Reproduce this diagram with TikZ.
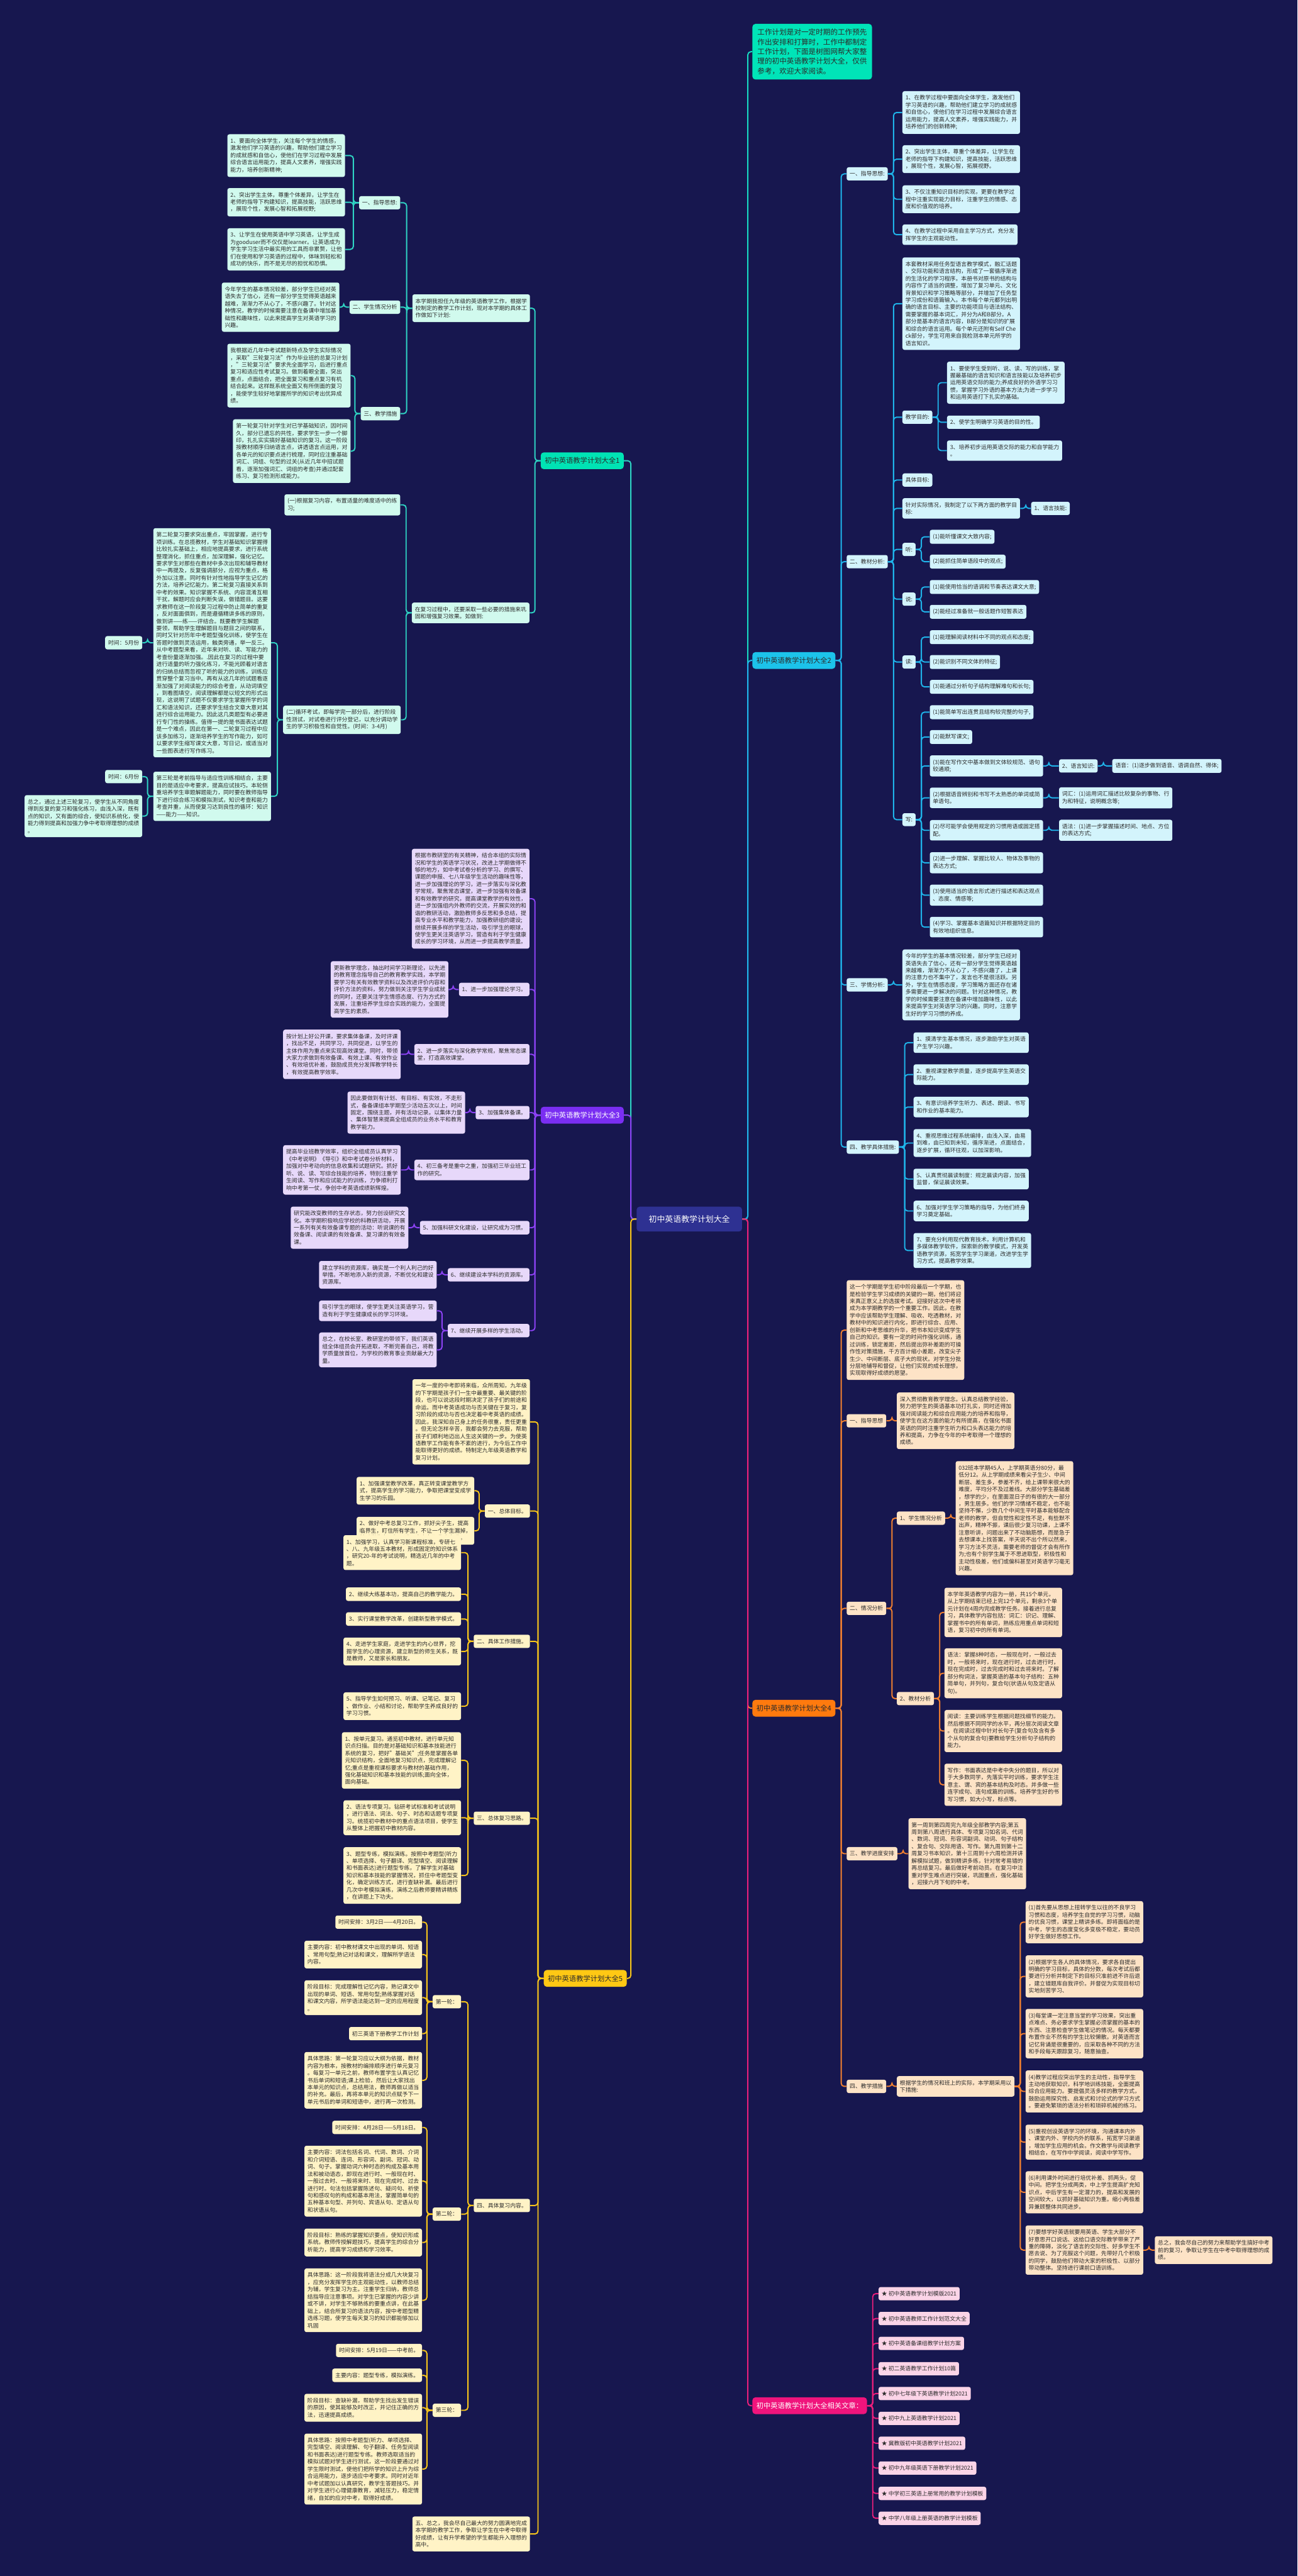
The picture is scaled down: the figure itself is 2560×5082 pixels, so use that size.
\documentclass[tikz,border=0pt]{standalone}
\usepackage{fontspec}
\setmainfont{Noto Sans CJK SC}
\usepackage{tikz}

\definecolor{bg}{HTML}{17174F}
\definecolor{ink}{HTML}{2B2B2B}
\definecolor{rootfill}{HTML}{2E3192}
\definecolor{introfill}{HTML}{00E4B8}
\definecolor{linei}{HTML}{17D9C0}
\definecolor{node1}{HTML}{00E3B4}\definecolor{fill1}{HTML}{D1FAEE}\definecolor{line1}{HTML}{2FD5C4}
\definecolor{node2}{HTML}{1CC3EA}\definecolor{fill2}{HTML}{D3F4FC}\definecolor{line2}{HTML}{1FB4EA}
\definecolor{node3}{HTML}{7A2EF2}\definecolor{fill3}{HTML}{E7D8FA}\definecolor{line3}{HTML}{8C42F4}
\definecolor{node4}{HTML}{FF7A0E}\definecolor{fill4}{HTML}{FDE3C6}\definecolor{line4}{HTML}{F28030}
\definecolor{node5}{HTML}{FFC814}\definecolor{fill5}{HTML}{FFF3C6}\definecolor{line5}{HTML}{F7C51A}
\definecolor{node6}{HTML}{F0147C}\definecolor{fill6}{HTML}{FBD4E7}\definecolor{line6}{HTML}{E91F7B}

\tikzset{
  box/.style={rounded corners=2pt, inner xsep=3pt, inner ysep=4pt, align=left, text=ink,
    font=\fontsize{5.5}{7.1}\selectfont},
  b1/.style={box, fill=fill1, anchor=east},
  b2/.style={box, fill=fill2, anchor=west},
  b3/.style={box, fill=fill3, anchor=east},
  b4/.style={box, fill=fill4, anchor=west},
  b5/.style={box, fill=fill5, anchor=east},
  b6/.style={box, fill=fill6, anchor=west},
  topic/.style={rounded corners=3pt, inner xsep=4pt, inner ysep=5pt, text=ink,
    font=\fontsize{7}{8}\selectfont},
  main1/.style={topic, fill=node1, anchor=east},
  main2/.style={topic, fill=node2, anchor=west},
  main3/.style={topic, fill=node3, text=white, anchor=east},
  main4/.style={topic, fill=node4, anchor=west},
  main5/.style={topic, fill=node5, anchor=east},
  main6/.style={topic, fill=node6, text=white, anchor=west},
  rootnode/.style={rounded corners=3pt, fill=rootfill, text=white, inner xsep=12pt,
    inner ysep=8.5pt, font=\fontsize{8}{9}\selectfont},
  intro/.style={rounded corners=3pt, fill=introfill, text=ink, align=left, anchor=west,
    inner xsep=5pt, inner ysep=5pt, font=\fontsize{7.2}{9.5}\selectfont},
  wire/.style={line width=1.2pt, rounded corners=3pt},
  li/.style={wire, draw=linei}, l1/.style={wire, draw=line1}, l2/.style={wire, draw=line2},
  l3/.style={wire, draw=line3}, l4/.style={wire, draw=line4}, l5/.style={wire, draw=line5},
  l6/.style={wire, draw=line6}
}

% elbow connectors: parent to child, to the right or to the left
\newcommand{\linkR}[3]{\draw[#1] (#2.east) -- ++(5.5pt,0) |- (#3.west);}
\newcommand{\linkL}[3]{\draw[#1] (#2.west) -- ++(-5.5pt,0) |- (#3.east);}

\begin{document}
\begin{tikzpicture}[x=0.5pt, y=-0.5pt]
    % Canvas
    \useasboundingbox (0,0) rectangle (2560,5082);
    \fill[bg] (0,0) rectangle (2560,5082);

    % Central topic
    \node[rootnode] (root) at (1360,2405) {初中英语教学计划大全};

    % Intro
    \node[intro] (intro) at (1484,102) {工作计划是对一定时期的工作预先\\作出安排和打算时，工作中都制定\\工作计划，下面是树图网帮大家整\\理的初中英语教学计划大全，仅供\\参考，欢迎大家阅读。};

    % ---------------- Plan 2 ----------------
    \node[main2] (p2) at (1484,1303) {初中英语教学计划大全2};
    \node[b2] (p2a) at (1670,343) {一、指导思想:};
    \node[b2] (p2a1) at (1780,222) {1、在教学过程中要面向全体学生，激发他们\\学习英语的兴趣，帮助他们建立学习的成就感\\和自信心，使他们在学习过程中发展综合语言\\运用能力，提高人文素养，增强实践能力，并\\培养他们的创新精神;};
    \node[b2] (p2a2) at (1780,314) {2、突出学生主体，尊重个体差异，让学生在\\老师的指导下构建知识，提高技能，活跃思维\\，展现个性，发展心智，拓展视野。};
    \node[b2] (p2a3) at (1780,393) {3、不仅注重知识目标的实现，更要在教学过\\程中注重实现能力目标，注重学生的情感、态\\度和价值观的培养。};
    \node[b2] (p2a4) at (1780,463) {4、在教学过程中采用自主学习方式，充分发\\挥学生的主观能动性。};

    \node[b2] (p2b) at (1670,1108) {二、教材分析:};
    \node[b2] (p2b1) at (1780,599) {本套教材采用任务型语言教学模式，融汇话题\\、交际功能和语言结构，形成了一套循序渐进\\的生活化的学习程序。本册书对原书的结构与\\内容作了适当的调整，增加了复习单元、文化\\背景知识和学习策略等部分，并增加了任务型\\学习成份和语篇输入。本书每个单元都列出明\\确的语言目标、主要的功能项目与语法结构、\\需要掌握的基本词汇，并分为A和B部分。A\\部分是基本的语言内容，B部分是知识的扩展\\和综合的语言运用。每个单元还附有Self Che\\ck部分，学生可用来自我检测本单元所学的\\语言知识。};
    \node[b2] (p2b2) at (1780,823) {教学目的:};
    \node[b2] (p2b2a) at (1868,755) {1、要使学生受到听、说、读、写的训练，掌\\握最基础的语言知识和语言技能以及培养初步\\运用英语交际的能力;养成良好的外语学习习\\惯，掌握学习外语的基本方法;为进一步学习\\和运用英语打下扎实的基础。};
    \node[b2] (p2b2b) at (1868,833) {2、使学生明确学习英语的目的性。};
    \node[b2] (p2b2c) at (1868,889) {3、培养初步运用英语交际的能力和自学能力\\。};
    \node[b2] (p2b3) at (1780,947) {具体目标:};
    \node[b2] (p2b4) at (1780,1003) {针对实际情况，我制定了以下两方面的教学目\\标:};
    \node[b2] (p2b4a) at (2034,1003) {1、语言技能:};
    \node[b2] (p2b5) at (1780,1084) {听:};
    \node[b2] (p2b5a) at (1834,1059) {(1)能听懂课文大致内容;};
    \node[b2] (p2b5b) at (1834,1108) {(2)能抓住简单语段中的观点;};
    \node[b2] (p2b6) at (1780,1182) {说:};
    \node[b2] (p2b6a) at (1834,1158) {(1)能使用恰当的语调和节奏表达课文大意;};
    \node[b2] (p2b6b) at (1834,1207) {(2)能经过准备就一般话题作短暂表达};
    \node[b2] (p2b7) at (1780,1306) {读:};
    \node[b2] (p2b7a) at (1834,1257) {(1)能理解阅读材料中不同的观点和态度;};
    \node[b2] (p2b7b) at (1834,1306) {(2)能识别不同文体的特征;};
    \node[b2] (p2b7c) at (1834,1355) {(3)能通过分析句子结构理解难句和长句;};
    \node[b2] (p2b8) at (1780,1617) {写:};
    \node[b2] (p2b8a) at (1834,1405) {(1)能简单写出连贯且结构较完整的句子,};
    \node[b2] (p2b8b) at (1834,1454) {(2)能默写课文;};
    \node[b2] (p2b8c) at (1834,1511) {(3)能在写作文中基本做到文体较规范、语句\\较通顺;};
    \node[b2] (p2b8d) at (1834,1574) {(2)根据语音辨别和书写不太熟悉的单词或简\\单语句。};
    \node[b2] (p2b8e) at (1834,1638) {(2)尽可能学会使用规定的习惯用语或固定搭\\配。};
    \node[b2] (p2b8f) at (1834,1702) {(2)进一步理解、掌握比较人、物体及事物的\\表达方式;};
    \node[b2] (p2b8g) at (1834,1766) {(3)使用适当的语言形式进行描述和表达观点\\、态度、情感等;};
    \node[b2] (p2b8h) at (1834,1829) {(4)学习、掌握基本语篇知识并根据特定目的\\有效地组织信息。};
    \node[b2] (p2b8c1) at (2089,1511) {2、语言知识:};
    \node[b2] (p2b8c2) at (2194,1511) {语音：(1)逐步做到语音、语调自然、得体;};
    \node[b2] (p2b8d1) at (2089,1574) {词汇：(1)运用词汇描述比较复杂的事物、行\\为和特征，说明概念等;};
    \node[b2] (p2b8e1) at (2089,1638) {语法：(1)进一步掌握描述时间、地点、方位\\的表达方式;};

    \node[b2] (p2c) at (1670,1943) {三、学情分析:};
    \node[b2] (p2c1) at (1780,1943) {今年的学生的基本情况较差，部分学生已经对\\英语失去了信心，还有一部分学生觉得英语越\\来越难，渐渐力不从心了，不感兴趣了，上课\\的注意力也不集中了，发言也不是很活跃。另\\外，学生在情感态度，学习策略方面还存在诸\\多需要进一步解决的问题。针对这种情况，教\\学的时候需要注意在备课中增加趣味性，以此\\来提高学生对英语学习的兴趣。同时，注意学\\生好的学习习惯的养成。};

    \node[b2] (p2d) at (1670,2263) {四、教学具体措施:};
    \node[b2] (p2d1) at (1802,2057) {1、摸清学生基本情况，逐步激励学生对英语\\产生学习兴趣。};
    \node[b2] (p2d2) at (1802,2120) {2、重视课堂教学质量，逐步提高学生英语交\\际能力。};
    \node[b2] (p2d3) at (1802,2184) {3、有意识培养学生听力、表述、朗读、书写\\和作业的基本能力。};
    \node[b2] (p2d4) at (1802,2255) {4、重视思维过程系统编排，由浅入深，由易\\到难，由已知到未知，循序渐进，点面结合，\\逐步扩展，循环往观，以加深影响。};
    \node[b2] (p2d5) at (1802,2326) {5、认真贯彻晨读制度：规定晨读内容，加强\\监督，保证晨读效果。};
    \node[b2] (p2d6) at (1802,2389) {6、加强对学生学习策略的指导，为他们终身\\学习奠定基础。};
    \node[b2] (p2d7) at (1802,2467) {7、要充分利用现代教育技术，利用计算机和\\多媒体教学软件，探索新的教学模式，开发英\\语教学资源，拓宽学生学习渠道，改进学生学\\习方式，提高教学效果。};

    % ---------------- Plan 4 ----------------
    \node[main4] (p4) at (1484,3370) {初中英语教学计划大全4};
    \node[b4] (p4a) at (1670,2624) {这一个学期是学生初中阶段最后一个学期，也\\是检验学生学习成绩的关键的一期，他们将迎\\来真正意义上的选拔考试。迎接好这次中考将\\成为本学期教学的一个重要工作。因此，在教\\学中应该帮助学生理解、吸收、吃透教材，对\\教材中的知识进行内化，即进行综合、应用、\\创新和中考思维的升华，把书本知识变成学生\\自己的知识。要有一定的时间作强化训练，通\\过训练，锁定差距，然后提出弥补差距的可操\\作性对策措施，千方百计缩小差距，改变尖子\\生少、中间断层、底子大的现状。对学生分批\\分层地辅导和督促，让他们实现的成长理想，\\实现取得好成绩的愿望。};
    \node[b4] (p4b) at (1670,2803) {一、指导思想};
    \node[b4] (p4b1) at (1769,2803) {深入贯彻教育教学理念。认真总结教学经验，\\努力把学生的英语基本功打扎实，同时还得加\\强对阅读能力和综合应用能力的培养和指导，\\使学生在这方面的能力有所提高，在强化书面\\英语的同时注重学生听力和口头表达能力的培\\养和提高，力争在今年的中考取得一个理想的\\成绩。};
    \node[b4] (p4c) at (1670,3173) {二、情况分析};
    \node[b4] (p4c1) at (1769,2995) {1、学生情况分析};
    \node[b4] (p4c1a) at (1885,2995) {032班本学期45人，上学期英语分80分，最\\低分12。从上学期成绩来看尖子生少、中间\\断层、差生多，参差不齐，给上课带来很大的\\难度，平均分不及过差线。大部分学生基础差\\，想学的少，在里面混日子的有很的大一部分\\，男生居多。他们的学习情绪不稳定，也不能\\坚持不懈，少数几个中间生平时基本能够配合\\老师的教学，但自觉性和定性不足，有些默不\\出声，精神不振，课后很少复习功课，上课不\\注意听讲，问题出来了不动脑筋想，而是急于\\去想课本上找答案，半天说不出个所以然来，\\学习方法不灵活，需要老师的督促才会有所作\\为;也有个别学生属于不思进取型，积极性和\\主动性极差，他们或偏科甚至对英语学习毫无\\兴趣。};
    \node[b4] (p4c2) at (1769,3351) {2、教材分析};
    \node[b4] (p4c2a) at (1863,3181) {本学年英语教学内容为一册，共15个单元，\\从上学期结束已经上完12个单元，剩余3个单\\元计划在4周内完成教学任务。接着进行总复\\习，具体教学内容包括：词汇：识记、理解、\\掌握书中的所有单词，熟练应用重点单词和短\\语，复习初中的所有单词。};
    \node[b4] (p4c2b) at (1863,3301) {语法：掌握8种时态，一般现在时，一般过去\\时，一般将来时，现在进行时，过去进行时，\\现在完成时，过去完成时和过去将来时。了解\\部分构词法，掌握英语的基本句子结构：五种\\简单句，并列句，复合句(状语从句及定语从\\句)。};
    \node[b4] (p4c2c) at (1863,3415) {阅读：主要训练学生根据问题找细节的能力。\\然后根据不同同学的水平，再分层次阅读文章\\。在阅读过程中针对长句子(复合句及含有多\\个从句的复合句)要教给学生分析句子结构的\\能力。};
    \node[b4] (p4c2d) at (1863,3521) {写作：书面表达是中考中失分的题目，所以对\\于大多数同学，先落实平时训练，要求学生注\\意主、谓、宾的基本结构及时态。并多做一些\\连字成句、连句成篇的训练。培养学生好的书\\写习惯，如大小写，标点等。};
    \node[b4] (p4d) at (1670,3657) {三、教学进度安排};
    \node[b4] (p4d1) at (1792,3657) {第一周到第四周完九年级全部教学内容;第五\\周到第八周进行具体、专项复习如名词、代词\\、数词、冠词、形容词副词、动词、句子结构\\、复合句、交际用语、写作。第九周到第十二\\周复习书本知识，第十三周到十六周检测并讲\\解模拟试题，做到精讲多练，针对常考易错的\\再总结复习。最后做好考前动员。在复习中注\\重对学生难点进行突破，巩固重点，强化基础\\，迎接六月下旬的中考。};
    \node[b4] (p4e) at (1670,4116) {四、教学措施};
    \node[b4] (p4e1) at (1769,4116) {根据学生的情况和班上的实际，本学期采用以\\下措施:};
    \node[b4] (p4e1a) at (2023,3792) {(1)首先要从思想上扭转学生以往的不良学习\\习惯和态度，培养学生自觉的学习习惯，动脑\\的优良习惯，课堂上精讲多练。即将面临的是\\中考，学生的态度变化多变极不稳定，要动员\\好学生做好思想工作。};
    \node[b4] (p4e1b) at (2023,3899) {(2)根据学生各人的具体情况，要求各自提出\\明确的学习目标，具体的分数，每次考试后都\\要进行分析并制定下的目标只准前进不许后退\\，建立错题库自我评价。并督促为实现目标切\\实地刻苦学习、};
    \node[b4] (p4e1c) at (2023,4012) {(3)每堂课一定注意当堂的学习效果，突出重\\点难点、务必要求学生掌握必须掌握的基本的\\东西、注意检查学生做笔记的情况。每天都要\\布置作业不然有的学生比较懒散。对英语而言\\记忆背诵是很重要的，应采取各种不同的方法\\和手段每天跟踪复习，随意抽查。};
    \node[b4] (p4e1d) at (2023,4126) {(4)教学过程应突出学生的主动性，指导学生\\主动地获取知识，科学地训练技能，全面提高\\综合应用能力。要提倡灵活多样的教学方式，\\鼓励运用探究性、启发式和讨论式的学习方式\\。要避免繁琐的语法分析和琐碎机械的练习。};
    \node[b4] (p4e1e) at (2023,4226) {(5)重视创设英语学习的环境，沟通课本内外\\、课堂内外、学校内外的联系，拓宽学习渠道\\，增加学生应用的机会。作文教学与阅读教学\\相结合，在写作中学阅读，阅读中学写作。};
    \node[b4] (p4e1f) at (2023,4325) {(6)利用课外时间进行培优补差、抓两头，促\\中间。把学生分成两类，中上学生提高扩充知\\识点，中后学生有一定潜力的，提高和发展的\\空间较大，以抓好基础知识为重。缩小两极差\\异兼顾整体共同进步。};
    \node[b4] (p4e1g) at (2023,4439) {(7)要想学好英语就要用英语、学生大部分不\\好意思开口说话、这给口语交际教学带来了严\\重的障碍，淡化了语言的交际性、好多学生不\\愿去说、为了克服这个问题，先带好几个积极\\的同学，鼓励他们带动大家的积极性、以部分\\带动整体。坚持进行课前口语训练。};
    \node[b4] (p4e1g1) at (2278,4439) {总之，我会尽自己的努力来帮助学生搞好中考\\前的复习，争取让学生在中考中取得理想的成\\绩。};

    % ---------------- Related articles ----------------
    \node[main6] (p6) at (1484,4746) {初中英语教学计划大全相关文章：};
    \node[b6] (p6a) at (1733,4525) {★ 初中英语教学计划模版2021};
    \node[b6] (p6b) at (1733,4574) {★ 初中英语教师工作计划范文大全};
    \node[b6] (p6c) at (1733,4623) {★ 初中英语备课组教学计划方案};
    \node[b6] (p6d) at (1733,4673) {★ 初二英语教学工作计划10篇};
    \node[b6] (p6e) at (1733,4722) {★ 初中七年级下英语教学计划2021};
    \node[b6] (p6f) at (1733,4771) {★ 初中九上英语教学计划2021};
    \node[b6] (p6g) at (1733,4820) {★ 冀教版初中英语教学计划2021};
    \node[b6] (p6h) at (1733,4869) {★ 初中九年级英语下册教学计划2021};
    \node[b6] (p6i) at (1733,4919) {★ 中学初三英语上册常用的教学计划模板};
    \node[b6] (p6j) at (1733,4968) {★ 中学八年级上册英语的教学计划模板};

    % ---------------- Plan 1 ----------------
    \node[main1] (p1) at (1231,909) {初中英语教学计划大全1};
    \node[b1] (p1a) at (1046,608) {本学期我担任九年级的英语教学工作，根据学\\校制定的教学工作计划，现对本学期的具体工\\作做如下计划:};
    \node[b1] (p1a1) at (790,400) {一、指导思想:};
    \node[b1] (p1a1a) at (681,307) {1、要面向全体学生，关注每个学生的情感，\\激发他们学习英语的兴趣，帮助他们建立学习\\的成就感和自信心，使他们在学习过程中发展\\综合语言运用能力，提高人文素养，增强实践\\能力，培养创新精神;};
    \node[b1] (p1a1b) at (681,399) {2、突出学生主体，尊重个体差异，让学生在\\老师的指导下构建知识，提高技能，活跃思维\\，展现个性，发展心智和拓展视野;};
    \node[b1] (p1a1c) at (681,492) {3、让学生在使用英语中学习英语，让学生成\\为gooduser而不仅仅是learner。让英语成为\\学生学习生活中最实用的工具而非累赘，让他\\们在使用和学习英语的过程中，体味到轻松和\\成功的快乐，而不是无尽的担忧和恐惧。};
    \node[b1] (p1a2) at (790,606) {二、学生情况分析};
    \node[b1] (p1a2a) at (670,606) {今年学生的基本情况较差，部分学生已经对英\\语失去了信心，还有一部分学生觉得英语越来\\越难，渐渐力不从心了，不感兴趣了。针对这\\种情况，教学的时候需要注意在备课中增加基\\础性和趣味性，以此来提高学生对英语学习的\\兴趣。};
    \node[b1] (p1a3) at (790,816) {三、教学措施};
    \node[b1] (p1a3a) at (692,741) {我根据近几年中考试题新特点及学生实际情况\\，采取"三轮复习法"作为毕业班的总复习计划\\，"三轮复习法"要求先全面学习，后进行重点\\复习和适应性考试复习。做到着眼全面，突出\\重点，点面结合，把全面复习和重点复习有机\\结合起来。这样既系统全面又有所侧面的复习\\，能使学生较好地掌握所学的知识考出优异成\\绩。};
    \node[b1] (p1a3b) at (692,890) {第一轮复习针对学生对已学基础知识，因时间\\久，部分已遗忘的共性，要求学生一步一个脚\\印，扎扎实实搞好基础知识的复习。这一阶段\\按教材顺序归纳语言点，讲透语言点运用，对\\各单元的知识要点进行梳理，同时应注重基础\\词汇、词组、句型的过关(从近几年中招试题\\看，逐渐加强词汇、词组的考查)并通过配套\\练习、复习检测形成能力。};
    \node[b1] (p1b) at (1045,1209) {在复习过程中，还要采取一些必要的措施来巩\\固和增强复习效果。如做到:};
    \node[b1] (p1b1) at (790,996) {(一)根据复习内容，布置适量的难度适中的练\\习;};
    \node[b1] (p1b2) at (791,1420) {(二)循环考试，即每学完一部分后，进行阶段\\性测试，对试卷进行评分登记，以充分调动学\\生的学习积极性和自觉性。(时间：3-4月)};
    \node[b1] (p1b2a) at (535,1268) {第二轮复习要求突出重点，牢固掌握，进行专\\项训练。在总揽教材，学生对基础知识掌握得\\比较扎实基础上，相应地提高要求，进行系统\\整理消化，抓住重点，加深理解，强化记忆。\\要求学生对那些在教材中多次出现和辅导教材\\中一再提及，反复强调部分，应视为重点，格\\外加以注意。同时有针对性地指导学生记忆的\\方法，培养记忆能力。第二轮复习直接关系到\\中考的效果。知识掌握不系统、内容混淆互相\\干扰，解题时应会判断失误，做错题目。这要\\求教师在这一阶段复习过程中防止简单的重复\\，反对面面俱到，而是遵循精讲多练的原则，\\做到讲——练——评结合。既要教学生解题\\要领，帮助学生理解题目与题目之间的联系，\\同时又针对历年中考题型强化训练，使学生在\\答题时做到灵活运用，触类旁通，举一反三。\\从中考题型来看，近年来对听、读、写能力的\\考查份量逐渐加强。.因此在复习的过程中要\\进行适量的听力强化练习，不能光顾着对语言\\的归纳总结而忽视了听的能力的训练，训练应\\贯穿整个复习当中。再有从这几年的试题看逐\\渐加强了对阅读能力的综合考查，从动词填空\\，到看图填空，阅读理解都是以短文的形式出\\现，这说明了试题不仅要求学生掌握所学的词\\汇和语法知识，还要求学生结合文章大意对其\\进行综合运用能力。因此这几类题型有必要进\\行专门性的操练。值得一提的是书面表达试题\\是一个难点，因此在第一、二轮复习过程中应\\该多加练习，逐渐培养学生的写作能力，如可\\以要求学生缩写课文大意，写日记，或适当对\\一些图表进行写作练习。};
    \node[b1] (p1b2a1) at (281,1268) {时间：5月份};
    \node[b1] (p1b2b) at (535,1571) {第三轮是考前指导与适应性训练相结合，主要\\目的是适应中考要求，提高应试技巧。本轮侧\\重培养学生审题解题能力，同时要在教师指导\\下进行综合练习和模拟测试，知识考查和能力\\考查并重，从而使复习达到良性的循环：知识\\——能力——知识。};
    \node[b1] (p1b2b1) at (281,1532) {时间：6月份};
    \node[b1] (p1b2b2) at (281,1610) {总之，通过上述三轮复习，使学生从不同角度\\得到反复的复习和强化练习，由浅入深，既有\\点的知识，又有面的综合，使知识系统化，使\\能力得到提高和加强力争中考取得理想的成绩\\。};

    % ---------------- Plan 3 ----------------
    \node[main3] (p3) at (1231,2200) {初中英语教学计划大全3};
    \node[b3] (p3a) at (1045,1773) {根据市教研室的有关精神，结合本组的实际情\\况和学生的英语学习状况，改进上学期做得不\\够的地方，如中考试卷分析的学习、的撰写、\\课题的申报、七八年级学生活动的趣味性等，\\进一步加强理论的学习，进一步落实与深化教\\学常规，聚焦常态课堂，进一步加强有效备课\\和有效教学的研究，提高课堂教学的有效性，\\进一步加强组内外教师的交流，开展实效的和\\谐的教研活动，激励教师多反思和多总结，提\\高专业水平和教学能力，加强教研组的建设;\\继续开展多样的学生活动，吸引学生的眼球，\\使学生更关注英语学习，营造有利于学生健康\\成长的学习环境，从而进一步提高教学质量。};
    \node[b3] (p3b) at (1045,1952) {1、进一步加强理论学习。};
    \node[b3] (p3b1) at (885,1952) {更新教学理念，抽出时间学习新理论，以先进\\的教育理念指导自己的教育教学实践，本学期\\要学习有关有效教学资料以及改进评价内容和\\评价方法的资料，努力做到关注学生学业成就\\的同时，还要关注学生情感态度、行为方式的\\发展，注重培养学生综合实践的能力，全面提\\高学生的素质。};
    \node[b3] (p3c) at (1045,2080) {2、进一步落实与深化教学常规，聚焦常态课\\堂，打造高效课堂。};
    \node[b3] (p3c1) at (791,2080) {按计划上好公开课，要求集体备课，及时评课\\，找出不足，共同学习，共同促进，以学生的\\主体作用为重点来实现高效课堂。同时，带领\\大家力求做到有效备课、有效上课、有效作业\\、有效培优补差，鼓励成员充分发挥教学特长\\，有效提高教学效率。};
    \node[b3] (p3d) at (1045,2195) {3、加强集体备课。};
    \node[b3] (p3d1) at (918,2195) {因此要做到有计划、有目标、有实效，不走形\\式，备备课组本学期至少活动五次以上，时间\\固定，围绕主题，并有活动记录。以集体力量\\、集体智慧来提高全组成员的业务水平和教育\\教学能力。};
    \node[b3] (p3e) at (1045,2308) {4、初三备考是重中之重，加强初三毕业班工\\作的研究。};
    \node[b3] (p3e1) at (791,2308) {提高毕业班教学效率，组织全组成员认真学习\\《中考说明》《导引》和中考试卷分析材料，\\加强对中考动向的信息收集和试题研究。抓好\\听、说、读、写综合技能的培养，特别注重学\\生阅读、写作和应试能力的训练，力争顺利打\\响中考第一仗，争创中考英语成绩新辉煌。};
    \node[b3] (p3f) at (1045,2422) {5、加强科研文化建设，让研究成为习惯。};
    \node[b3] (p3f1) at (806,2422) {研究能改变教师的生存状态，努力创设研究文\\化。本学期积极响应学校的科教研活动，开展\\一系列有关有效备课专题的活动：听说课的有\\效备课、阅读课的有效备课、复习课的有效备\\课。};
    \node[b3] (p3g) at (1045,2515) {6、继续建设本学科的资源库。};
    \node[b3] (p3g1) at (862,2515) {建立学科的资源库，确实是一个利人利己的好\\举措。不断地添入新的资源，不断优化和建设\\资源库。};
    \node[b3] (p3h) at (1045,2625) {7、继续开展多样的学生活动。};
    \node[b3] (p3h1) at (862,2586) {吸引学生的眼球，使学生更关注英语学习，营\\造有利于学生健康成长的学习环境。};
    \node[b3] (p3h2) at (862,2663) {总之，在校长室、教研室的带领下，我们英语\\组全体组员会开拓进取，不断完善自己，将教\\学质量放首位，为学校的教育事业贡献最大力\\量。};

    % ---------------- Plan 5 ----------------
    \node[main5] (p5) at (1237,3903) {初中英语教学计划大全5};
    \node[b5] (p5a) at (1046,2805) {一年一度的中考即将来临，众所周知，九年级\\的下学期是孩子们一生中最重要、最关键的阶\\段，也可以说这段时期决定了孩子们的前途和\\命运。而中考英语成功与否关键在于复习，复\\习阶段的成功与否也决定着中考英语的成绩。\\因此，我深知自己身上的任务很重，责任更重\\。但无论怎样辛苦，我都会努力去克服，帮助\\孩子们顺利地迈出人生这关键的一步。为使英\\语教学工作能有条不紊的进行，为今后工作中\\能取得更好的成绩。特制定九年级英语教学和\\复习计划。};
    \node[b5] (p5b) at (1046,2981) {一、总体目标。};
    \node[b5] (p5b1) at (936,2941) {1、加强课堂教学改革，真正转变课堂教学方\\式，提高学生的学习能力，争取把课堂变成学\\生学习的乐园。};
    \node[b5] (p5b2) at (936,3020) {2、做好中考总复习工作，抓好尖子生，提高\\临界生，盯住所有学生，不让一个学生漏掉，\\鼓励学生向目标迈进，中考争取稳中有升。};
    \node[b5] (p5c) at (1046,3238) {二、具体工作措施。};
    \node[b5] (p5c1) at (910,3063) {1、加强学习，认真学习新课程标准，专研七\\、八、九年级五本教材，形成固定的知识体系\\，研究20-年的考试说明，精选近几年的中考\\题。};
    \node[b5] (p5c2) at (910,3145) {2、继续大练基本功，提高自己的教学能力。};
    \node[b5] (p5c3) at (910,3194) {3、实行课堂教学改革，创建新型教学模式。};
    \node[b5] (p5c4) at (910,3258) {4、走进学生家庭，走进学生的内心世界，挖\\掘学生的心理资源，建立新型的师生关系，既\\是教师，又是家长和朋友。};
    \node[b5] (p5c5) at (910,3366) {5、指导学生如何预习、听课、记笔记、复习\\、做作业、小结和讨论，帮助学生养成良好的\\学习习惯。};
    \node[b5] (p5d) at (1046,3587) {三、总体复习思路。};
    \node[b5] (p5d1) at (910,3473) {1、按单元复习。通览初中教材，进行单元知\\识点扫描。目的是对基础知识和基本技能进行\\系统的复习，把好"基础关";任务是掌握各单\\元知识结构，全面地复习知识点，完成理解记\\忆;重点是重视课标要求与教材的基础作用，\\强化基础知识和基本技能的训练;面向全体，\\面向基础。};
    \node[b5] (p5d2) at (910,3586) {2、语法专项复习。钻研考试标准和考试说明\\，进行语法、词法、句子、时态和话题专项复\\习。统揽初中教材中的重点语法项目，使学生\\从整体上把握初中教材内容。};
    \node[b5] (p5d3) at (910,3700) {3、题型专练，模拟演练。按照中考题型(听力\\、单项选择、句子翻译、完型填空、阅读理解\\和书面表达)进行题型专练，了解学生对基础\\知识和基本技能的掌握情况，抓住中考题型变\\化，确定训练方式，进行查缺补漏。最后进行\\几次中考模拟演练，演练之后教师要精讲精炼\\，在讲题上下功夫。};
    \node[b5] (p5e) at (1046,4351) {四、具体复习内容。};
    \node[b5] (p5e1) at (910,3949) {第一轮：};
    \node[b5] (p5e1a) at (833,3792) {时间安排：3月2日——4月20日。};
    \node[b5] (p5e1b) at (833,3856) {主要内容：初中教材课文中出现的单词、短语\\、常用句型;熟记对话和课文，理解所学语法\\内容。};
    \node[b5] (p5e1c) at (833,3941) {阶段目标：完成理解性记忆内容，熟记课文中\\出现的单词、短语、常用句型;熟练掌握对话\\和课文内容，所学语法能达到一定的应用程度\\。};
    \node[b5] (p5e1d) at (833,4012) {初三英语下册教学工作计划};
    \node[b5] (p5e1e) at (833,4104) {具体思路：第一轮复习应以大纲为依据，教材\\内容为根本，按教材的编排顺序进行单元复习\\。每复习一单元之前，教师布置学生认真记忆\\书后单词和短语;课上检验，然后让大家找出\\本单元的知识点，总结用法，教师再做以适当\\的补充。最后，再将本单元的知识点赋予下一\\单元书后的单词和短语中，进行再一次检测。};
    \node[b5] (p5e2) at (910,4368) {第二轮：};
    \node[b5] (p5e2a) at (833,4197) {时间安排：4月28日——5月18日。};
    \node[b5] (p5e2b) at (833,4303) {主要内容：词法包括名词、代词、数词、介词\\和介词短语、连词、形容词、副词、冠词、动\\词、句子。掌握动词六种时态的构成及基本用\\法和被动语态，即现在进行时、一般现在时、\\一般过去时、一般将来时、现在完成时、过去\\进行时。句法包括掌握陈述句、疑问句、祈使\\句和感叹句的构成和基本用法，掌握简单句的\\五种基本句型、并列句、宾语从句、定语从句\\和状语从句。};
    \node[b5] (p5e2c) at (833,4424) {阶段目标：熟练的掌握知识要点，使知识形成\\系统。教师传授解题技巧，提高学生的综合分\\析能力，提高学习成绩和学习效率。};
    \node[b5] (p5e2d) at (833,4538) {具体思路：这一阶段我将语法分成几大块复习\\，应充分发挥学生的主观能动性，以教师总结\\为辅，学生复习为主。注重学生归纳，教师总\\结指导应注意事项。对学生已掌握的内容少讲\\或不讲，对学生不够熟练的要重点讲，在此基\\础上，结合所复习的语法内容，按中考题型精\\选练习题，使学生每天复习的知识都能够加以\\巩固};
    \node[b5] (p5e3) at (910,4755) {第三轮：};
    \node[b5] (p5e3a) at (833,4637) {时间安排：5月19日——中考前。};
    \node[b5] (p5e3b) at (833,4686) {主要内容：题型专练，模拟演练。};
    \node[b5] (p5e3c) at (833,4750) {阶段目标：查缺补漏，帮助学生找出发生错误\\的原因，使其能够及时改正，并记住正确的方\\法，迅速提高成绩。};
    \node[b5] (p5e3d) at (833,4871) {具体思路：按照中考题型(听力、单项选择、\\完型填空、阅读理解、句子翻译、任务型阅读\\和书面表达)进行题型专练。教师选取适当的\\模拟试题对学生进行测试，这一阶段要通过对\\学生限时测试，使他们把所学的知识上升为综\\合运用能力，逐步适应中考要求。同时对近年\\中考试题加以认真研究，教学生答题技巧。并\\对学生进行心理健康教育，减轻压力，稳定情\\绪，自如的应对中考，取得好成绩。};
    \node[b5] (p5f) at (1046,4999) {五、总之，我会尽自己最大的努力圆满地完成\\本学期的教学工作，争取让学生在中考中取得\\好成绩，让有升学希望的学生都能升入理想的\\高中。};

    % ---------------- Connectors ----------------
    % root to branches
    \linkR{li}{root}{intro}
    \linkR{l2}{root}{p2}
    \linkR{l4}{root}{p4}
    \linkR{l6}{root}{p6}
    \linkL{l1}{root}{p1}
    \linkL{l3}{root}{p3}
    \linkL{l5}{root}{p5}

    % plan 2
    \foreach \c in {p2a,p2b,p2c,p2d} {\linkR{l2}{p2}{\c}}
    \foreach \c in {p2a1,p2a2,p2a3,p2a4} {\linkR{l2}{p2a}{\c}}
    \foreach \c in {p2b1,p2b2,p2b3,p2b4,p2b5,p2b6,p2b7,p2b8} {\linkR{l2}{p2b}{\c}}
    \foreach \c in {p2b2a,p2b2b,p2b2c} {\linkR{l2}{p2b2}{\c}}
    \linkR{l2}{p2b4}{p2b4a}
    \foreach \c in {p2b5a,p2b5b} {\linkR{l2}{p2b5}{\c}}
    \foreach \c in {p2b6a,p2b6b} {\linkR{l2}{p2b6}{\c}}
    \foreach \c in {p2b7a,p2b7b,p2b7c} {\linkR{l2}{p2b7}{\c}}
    \foreach \c in {p2b8a,p2b8b,p2b8c,p2b8d,p2b8e,p2b8f,p2b8g,p2b8h} {\linkR{l2}{p2b8}{\c}}
    \linkR{l2}{p2b8c}{p2b8c1}
    \linkR{l2}{p2b8c1}{p2b8c2}
    \linkR{l2}{p2b8d}{p2b8d1}
    \linkR{l2}{p2b8e}{p2b8e1}
    \linkR{l2}{p2c}{p2c1}
    \foreach \c in {p2d1,p2d2,p2d3,p2d4,p2d5,p2d6,p2d7} {\linkR{l2}{p2d}{\c}}

    % plan 4
    \foreach \c in {p4a,p4b,p4c,p4d,p4e} {\linkR{l4}{p4}{\c}}
    \linkR{l4}{p4b}{p4b1}
    \foreach \c in {p4c1,p4c2} {\linkR{l4}{p4c}{\c}}
    \linkR{l4}{p4c1}{p4c1a}
    \foreach \c in {p4c2a,p4c2b,p4c2c,p4c2d} {\linkR{l4}{p4c2}{\c}}
    \linkR{l4}{p4d}{p4d1}
    \linkR{l4}{p4e}{p4e1}
    \foreach \c in {p4e1a,p4e1b,p4e1c,p4e1d,p4e1e,p4e1f,p4e1g} {\linkR{l4}{p4e1}{\c}}
    \linkR{l4}{p4e1g}{p4e1g1}

    % related articles
    \foreach \c in {p6a,p6b,p6c,p6d,p6e,p6f,p6g,p6h,p6i,p6j} {\linkR{l6}{p6}{\c}}

    % plan 1
    \foreach \c in {p1a,p1b} {\linkL{l1}{p1}{\c}}
    \foreach \c in {p1a1,p1a2,p1a3} {\linkL{l1}{p1a}{\c}}
    \foreach \c in {p1a1a,p1a1b,p1a1c} {\linkL{l1}{p1a1}{\c}}
    \linkL{l1}{p1a2}{p1a2a}
    \foreach \c in {p1a3a,p1a3b} {\linkL{l1}{p1a3}{\c}}
    \foreach \c in {p1b1,p1b2} {\linkL{l1}{p1b}{\c}}
    \foreach \c in {p1b2a,p1b2b} {\linkL{l1}{p1b2}{\c}}
    \linkL{l1}{p1b2a}{p1b2a1}
    \foreach \c in {p1b2b1,p1b2b2} {\linkL{l1}{p1b2b}{\c}}

    % plan 3
    \foreach \c in {p3a,p3b,p3c,p3d,p3e,p3f,p3g,p3h} {\linkL{l3}{p3}{\c}}
    \linkL{l3}{p3b}{p3b1}
    \linkL{l3}{p3c}{p3c1}
    \linkL{l3}{p3d}{p3d1}
    \linkL{l3}{p3e}{p3e1}
    \linkL{l3}{p3f}{p3f1}
    \linkL{l3}{p3g}{p3g1}
    \foreach \c in {p3h1,p3h2} {\linkL{l3}{p3h}{\c}}

    % plan 5
    \foreach \c in {p5a,p5b,p5c,p5d,p5e,p5f} {\linkL{l5}{p5}{\c}}
    \foreach \c in {p5b1,p5b2} {\linkL{l5}{p5b}{\c}}
    \foreach \c in {p5c1,p5c2,p5c3,p5c4,p5c5} {\linkL{l5}{p5c}{\c}}
    \foreach \c in {p5d1,p5d2,p5d3} {\linkL{l5}{p5d}{\c}}
    \foreach \c in {p5e1,p5e2,p5e3} {\linkL{l5}{p5e}{\c}}
    \foreach \c in {p5e1a,p5e1b,p5e1c,p5e1d,p5e1e} {\linkL{l5}{p5e1}{\c}}
    \foreach \c in {p5e2a,p5e2b,p5e2c,p5e2d} {\linkL{l5}{p5e2}{\c}}
    \foreach \c in {p5e3a,p5e3b,p5e3c,p5e3d} {\linkL{l5}{p5e3}{\c}}

\end{tikzpicture}
\end{document}
